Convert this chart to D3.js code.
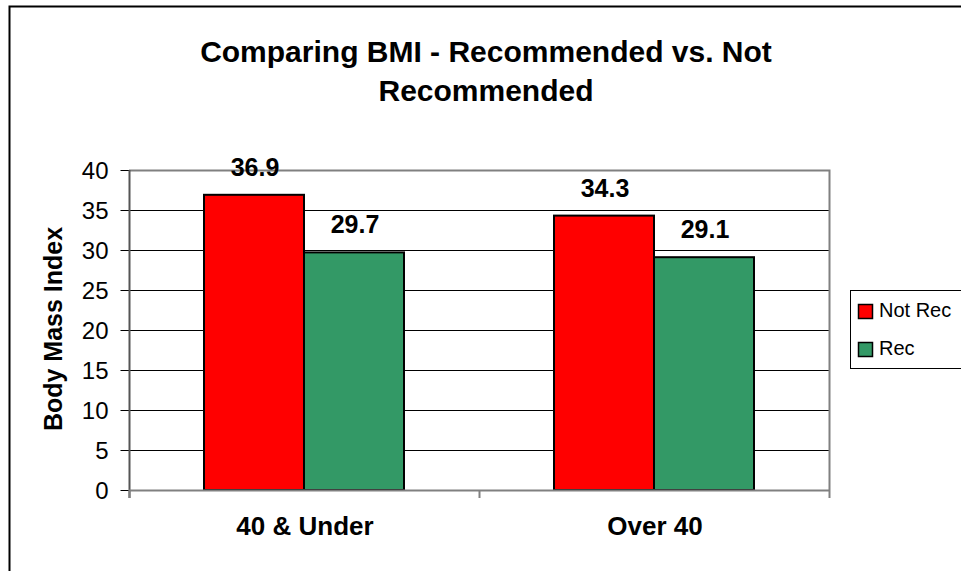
<!DOCTYPE html>
<html>
<head>
<meta charset="utf-8">
<script src="https://cdn.jsdelivr.net/npm/d3@7"></script>
<style>
  html, body { margin: 0; padding: 0; background: #fff; }
  svg { display: block; }
  text { font-family: "Liberation Sans", Arial, sans-serif; }
</style>
</head>
<body>
<svg id="chart" width="961" height="571"></svg>
<script>
const categories = ["40 & Under", "Over 40"];
const seriesNames = ["Not Rec", "Rec"];
const notRecValues = [36.9, 34.3];
const recValues = [29.7, 29.1];
const yTicks = [0, 5, 10, 15, 20, 25, 30, 35, 40];
const titleLines = ["Comparing BMI - Recommended vs. Not", "Recommended"];
const yAxisTitle = "Body Mass Index";
const colors = ["#FF0000", "#339966"];

const svg = d3.select("#chart");
const W = 961, H = 571;
svg.append("rect").attr("width", W).attr("height", H).attr("fill", "#fff");

// outer chart border (left and top visible)
svg.append("path")
  .attr("d", "M9.5,571 V6.5 H961")
  .attr("fill", "none").attr("stroke", "#000").attr("stroke-width", 2);

const plot = { left: 129, right: 829, top: 170, bottom: 490 };

const x0 = d3.scaleBand().domain(categories).range([plot.left, plot.right]).paddingInner(0).paddingOuter(0);
const x1 = d3.scaleBand().domain(seriesNames).range([75, x0.bandwidth() - 75]).padding(0);
const y = d3.scaleLinear().domain([0, 40]).range([plot.bottom, plot.top]);

// gridlines
svg.append("g").selectAll("line").data(yTicks.filter(t => t > 0 && t < 40)).join("line")
  .attr("x1", plot.left).attr("x2", plot.right)
  .attr("y1", d => Math.round(y(d)) + 0.5).attr("y2", d => Math.round(y(d)) + 0.5)
  .attr("stroke", "#000").attr("stroke-width", 1);

// plot border top & right (gray)
svg.append("path")
  .attr("d", `M${plot.left},${plot.top + 0.5} H${plot.right + 0.5} V${plot.bottom}`)
  .attr("fill", "none").attr("stroke", "#808080").attr("stroke-width", 2);

// bars
const data = categories.map((c, i) => ({ cat: c, vals: [notRecValues[i], recValues[i]] }));
const groups = svg.append("g").selectAll("g").data(data).join("g")
  .attr("transform", d => `translate(${x0(d.cat)},0)`);
groups.selectAll("rect").data(d => d.vals.map((v, j) => ({ v, s: seriesNames[j], j }))).join("rect")
  .attr("x", d => x1(d.s))
  .attr("y", d => y(d.v))
  .attr("width", x1.bandwidth())
  .attr("height", d => y(0) - y(d.v))
  .attr("fill", d => colors[d.j])
  .attr("stroke", "#000").attr("stroke-width", 2);

groups.selectAll("text.val").data(d => d.vals.map((v, j) => ({ v, s: seriesNames[j], j }))).join("text")
  .attr("class", "val")
  .attr("x", d => x1(d.s) + x1.bandwidth() / 2 + 1)
  .attr("y", d => y(d.v) - 19)
  .attr("text-anchor", "middle")
  .attr("font-size", 25).attr("font-weight", "bold").attr("fill", "#000")
  .text(d => d.v.toFixed(1));

// y axis
const yAxis = d3.axisLeft(y).tickValues(yTicks).tickSize(9).tickPadding(12).tickFormat(d3.format("d"));
const gy = svg.append("g").attr("transform", `translate(${plot.left + 0.5},0)`).call(yAxis);
gy.select(".domain").remove();
gy.selectAll(".tick line").attr("stroke", "#000").attr("stroke-width", 1);
gy.selectAll(".tick text").attr("font-size", 24).attr("fill", "#000")
  .attr("font-family", "'Liberation Sans', Arial, sans-serif").attr("dy", "0.34em");
svg.append("line").attr("x1", plot.left + 0.5).attr("x2", plot.left + 0.5)
  .attr("y1", plot.top).attr("y2", plot.bottom + 8)
  .attr("stroke", "#555").attr("stroke-width", 2);

// x axis
svg.append("line").attr("x1", plot.left).attr("x2", plot.right + 1)
  .attr("y1", plot.bottom + 0.5).attr("y2", plot.bottom + 0.5)
  .attr("stroke", "#808080").attr("stroke-width", 2);
const xTickPos = [plot.left, ...categories.map(c => x0(c) + x0.bandwidth())];
svg.append("g").selectAll("line").data(xTickPos).join("line")
  .attr("x1", d => d + 0.5).attr("x2", d => d + 0.5)
  .attr("y1", plot.bottom).attr("y2", plot.bottom + 8)
  .attr("stroke", "#808080").attr("stroke-width", 2);
svg.append("g").selectAll("text").data(categories).join("text")
  .attr("x", d => x0(d) + x0.bandwidth() / 2 + 1)
  .attr("y", 535)
  .attr("text-anchor", "middle")
  .attr("font-size", 26).attr("font-weight", "bold").attr("fill", "#000")
  .text(d => d);

// y axis title
svg.append("text")
  .attr("transform", `translate(62,${329}) rotate(-90)`)
  .attr("text-anchor", "middle")
  .attr("font-size", 25).attr("font-weight", "bold").attr("fill", "#000")
  .text(yAxisTitle);

// title
svg.append("g").selectAll("text").data(titleLines).join("text")
  .attr("x", 486).attr("y", (d, i) => 62 + i * 39)
  .attr("text-anchor", "middle")
  .attr("font-size", 30).attr("font-weight", "bold").attr("fill", "#000")
  .text(d => d);

// legend
const lg = svg.append("g");
lg.append("rect").attr("x", 850.5).attr("y", 290.5).attr("width", 120).attr("height", 78)
  .attr("fill", "#fff").attr("stroke", "#000").attr("stroke-width", 1);
const li = lg.selectAll("g.item").data(seriesNames).join("g").attr("class", "item")
  .attr("transform", (d, i) => `translate(0,${i * 38})`);
li.append("rect").attr("x", 858.5).attr("y", 304.5).attr("width", 14).attr("height", 14)
  .attr("fill", (d, i) => colors[i]).attr("stroke", "#000").attr("stroke-width", 1.5);
li.append("text").attr("x", 879).attr("y", 317)
  .attr("font-size", 20).attr("fill", "#000").text(d => d);
</script>
</body>
</html>
